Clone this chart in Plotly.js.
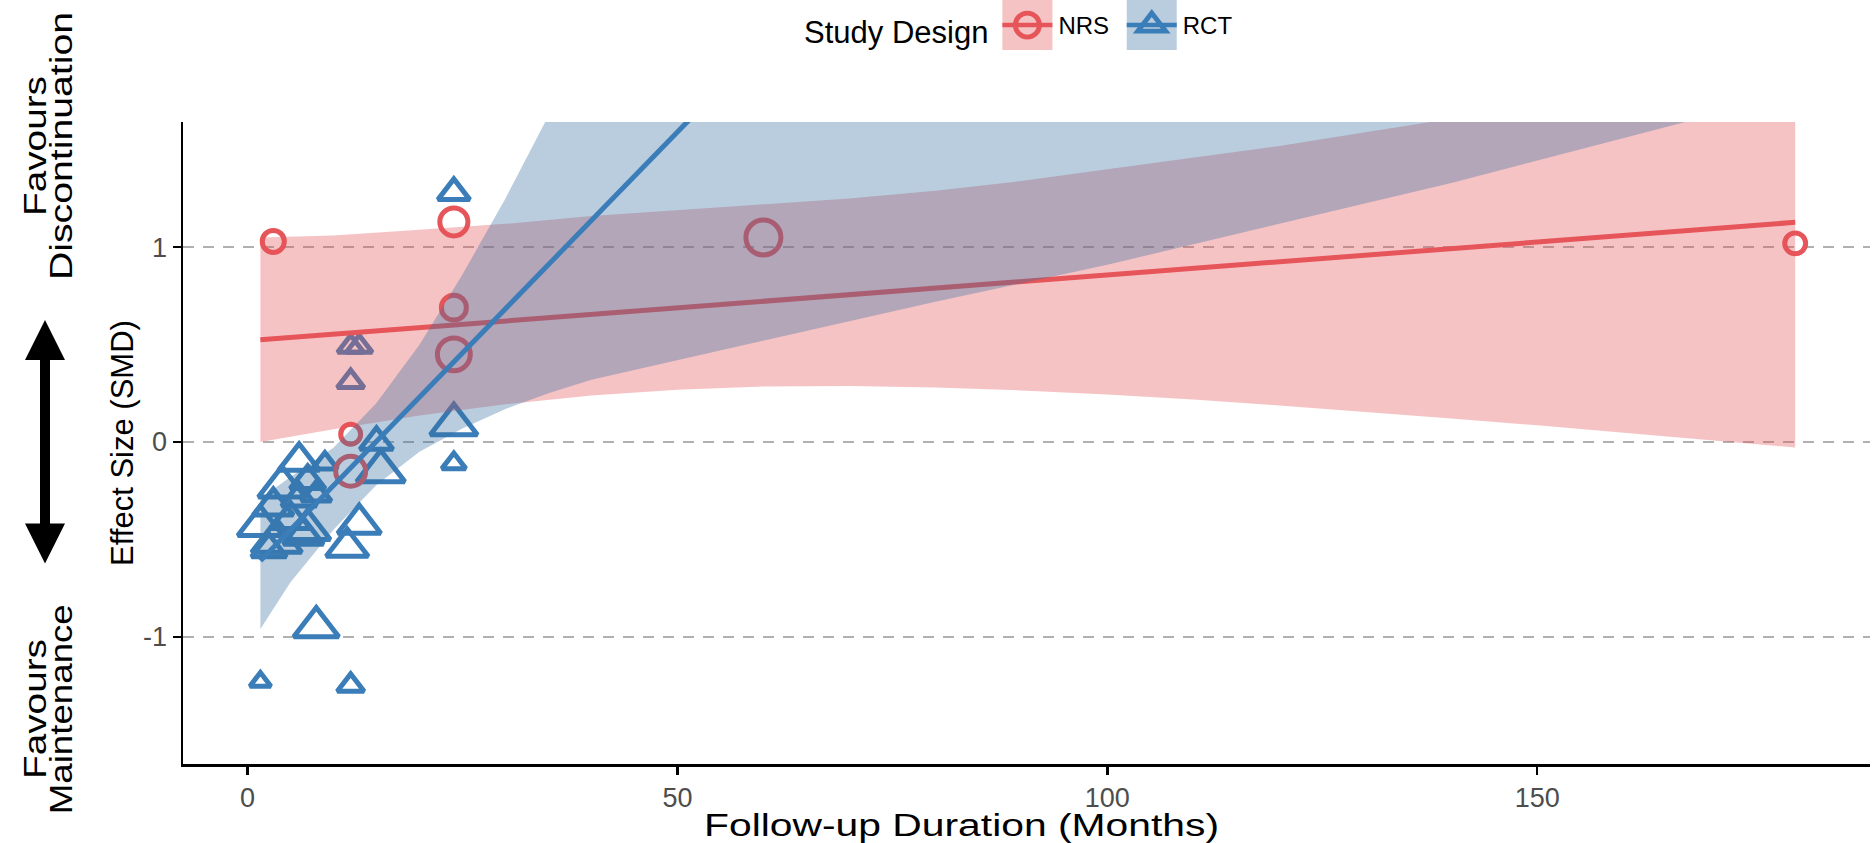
<!DOCTYPE html>
<html><head><meta charset="utf-8">
<script src="https://cdn.plot.ly/plotly-3.0.1.min.js"></script>
<style>html,body{margin:0;padding:0;background:#fff}#chart{width:1873px;height:843px}</style>
</head><body><div id="chart"></div>
<script>
// ---- Non-randomised studies (NRS) ----
const nrsMonths = [3, 24, 24, 24, 60, 180, 12, 12];
const nrsSMD    = [1.03, 1.13, 0.69, 0.45, 1.05, 1.02, 0.04, -0.15];
const nrsWeight = [6.0, 9.7, 7.7, 13.4, 15.1, 5.4, 4.9, 11.1];

// ---- Randomised controlled trials (RCT) ----
const rctMonths = [1.5, 12, 8, 24, 12, 13, 12, 24, 24, 15, 15.5, 13, 11.6, 6, 9, 4, 7, 1.5, 3.4, 6, 5, 7, 3, 8, 6.5, 2.5];
const rctSMD    = [-1.23, -1.25, -0.95, 1.28, 0.49, 0.49, 0.31, 0.09, -0.11, 0.0, -0.15, -0.42, -0.54, -0.10, -0.11, -0.23, -0.20, -0.43, -0.51, -0.29, -0.40, -0.45, -0.33, -0.27, -0.48, -0.55];
const rctWeight = [3.0, 4.9, 13.8, 6.9, 4.6, 4.6, 4.9, 15.0, 3.9, 7.4, 15.7, 12.6, 12.0, 11.4, 4.3, 15.0, 8.3, 13.8, 17.0, 8.3, 10.9, 13.8, 10.9, 6.1, 10.9, 8.3];

// ---- Linear meta-regression fits ----
const nrsFitMonths = [1.5, 180];
const nrsFitSMD    = [0.525, 1.128];
const rctFitMonths = [1.5, 180];
const rctFitSMD    = [-0.609, 7.49];

// ---- 95% confidence bands ----
const nrsBandMonths = [1.5, 10, 20, 30, 40, 50, 60, 70, 80, 90, 100, 110, 120, 130, 140, 150, 160, 170, 180];
const nrsBandLower  = [0.0, 0.066, 0.136, 0.194, 0.239, 0.269, 0.285, 0.288, 0.280, 0.265, 0.244, 0.218, 0.188, 0.156, 0.121, 0.086, 0.049, 0.011, -0.028];
const nrsBandUpper  = [1.05, 1.06, 1.09, 1.12, 1.16, 1.19, 1.22, 1.25, 1.29, 1.34, 1.40, 1.46, 1.52, 1.59, 1.66, 1.74, 1.83, 1.93, 2.03];

const rctBandMonths = [1.5, 5, 10, 15, 20, 25, 30, 35, 40, 60, 80, 100, 120, 140, 160, 180];
const rctBandLower  = [-0.96, -0.72, -0.45, -0.22, -0.05, 0.07, 0.17, 0.25, 0.32, 0.52, 0.72, 0.91, 1.12, 1.33, 1.56, 1.79];
const rctBandUpper  = [-0.29, -0.18, -0.03, 0.20, 0.50, 0.86, 1.25, 1.68, 2.10, 3.70, 5.30, 6.80, 8.40, 10.0, 11.6, 13.3];

const xTicks = [0, 50, 100, 150];
const yTicks = [-1, 0, 1];
const groupNames = ['NRS', 'RCT'];

// ---- styling ----
const RED = '#E6555A', BLUE = '#3A7DB8';
const RED_FILL = 'rgba(230,83,90,0.35)', BLUE_FILL = 'rgba(55,112,161,0.35)';
const FONT = 'Liberation Sans, Arial, sans-serif';
const circleSize = w => 9 * Math.sqrt(w);
const triangleSize = w => 1.167 * 9 * Math.sqrt(w);
const band = (xs, lo, hi) => ({x: xs.concat(xs.slice().reverse()), y: hi.concat(lo.slice().reverse())});

const nrsBand = band(nrsBandMonths, nrsBandLower, nrsBandUpper);
const rctBand = band(rctBandMonths, rctBandLower, rctBandUpper);

const data = [
  {type: 'scatter', mode: 'markers', x: rctMonths, y: rctSMD, showlegend: false, hoverinfo: 'x+y',
   marker: {symbol: 'triangle-up-open', color: BLUE, opacity: 1, size: rctWeight.map(triangleSize), line: {width: 5, color: BLUE}}},
  {type: 'scatter', mode: 'markers', x: nrsMonths, y: nrsSMD, showlegend: false, hoverinfo: 'x+y',
   marker: {symbol: 'circle-open', color: RED, opacity: 1, size: nrsWeight.map(circleSize), line: {width: 5, color: RED}}},
  {type: 'scatter', mode: 'lines', x: nrsBand.x, y: nrsBand.y, fill: 'toself', fillcolor: RED_FILL,
   line: {width: 0}, showlegend: false, hoverinfo: 'skip'},
  {type: 'scatter', mode: 'lines', x: nrsFitMonths, y: nrsFitSMD, line: {color: RED, width: 5}, showlegend: false},
  {type: 'scatter', mode: 'lines', x: rctBand.x, y: rctBand.y, fill: 'toself', fillcolor: BLUE_FILL,
   line: {width: 0}, showlegend: false, hoverinfo: 'skip'},
  {type: 'scatter', mode: 'lines', x: rctFitMonths, y: rctFitSMD, line: {color: BLUE, width: 5}, showlegend: false},
  // legend keys
  {type: 'scatter', mode: 'lines+markers', x: [null], y: [null], name: groupNames[0] + '\u00A0',
   line: {color: RED, width: 4.5}, marker: {symbol: 'circle-open', size: 16, color: RED, line: {width: 4, color: RED}}},
  {type: 'scatter', mode: 'lines+markers', x: [null], y: [null], name: groupNames[1],
   line: {color: BLUE, width: 4.5}, marker: {symbol: 'triangle-up-open', size: 16, color: BLUE, line: {width: 4, color: BLUE}}}
];

const L = 183, R = 3, T = 122, B = 79, W = 1873, H = 843;
const pw = W - L - R, ph = H - T - B;
const px2x = p => (p - L) / pw;
const px2y = p => (H - B - p) / ph;

const sideFont = {size: 31, family: FONT, color: '#000'};
const layout = {
  width: W, height: H,
  margin: {l: L, r: R, t: T, b: B, pad: 0},
  paper_bgcolor: '#fff', plot_bgcolor: '#fff',
  font: {family: FONT, color: '#000'},
  xaxis: {range: [-7.5, 188.7], tickvals: xTicks, ticktext: xTicks.map(String),
    ticks: 'outside', ticklen: 8, tickwidth: 2.5, tickcolor: '#000',
    showline: true, linecolor: '#000', linewidth: 2.5, showgrid: false, zeroline: false,
    tickfont: {size: 27, color: '#4D4D4D', family: FONT}},
  yaxis: {range: [-1.653, 1.643], tickvals: yTicks, ticktext: yTicks.map(String),
    ticks: 'outside', ticklen: 8, tickwidth: 2.5, tickcolor: '#000',
    showline: true, linecolor: '#000', linewidth: 2.5, zeroline: false,
    showgrid: true, gridcolor: '#B0B0B0', gridwidth: 2.5, griddash: '11px,9px',
    tickfont: {size: 27, color: '#4D4D4D', family: FONT},
    title: {text: 'Effect Size (SMD)', font: {size: 31, color: '#000', family: FONT}, standoff: 0}},
  legend: {orientation: 'h', x: px2x(802), xanchor: 'left', y: px2y(3), yanchor: 'top',
    bgcolor: 'rgba(0,0,0,0)', font: {size: 24, family: FONT, color: '#000'},
    title: {text: 'Study Design', side: 'left', font: {size: 31, family: FONT, color: '#000'}},
    itemwidth: 52, tracegroupgap: 0},
  annotations: [
    {xref: 'paper', yref: 'paper', x: px2x(961), y: px2y(826), xanchor: 'center', yanchor: 'middle',
     text: 'Follow-up Duration (Months)', showarrow: false, font: {size: 31, family: FONT, color: '#000'}},
    {xref: 'paper', yref: 'paper', x: px2x(35), y: px2y(146), xanchor: 'center', yanchor: 'middle',
     text: 'Favours', showarrow: false, textangle: -90, font: sideFont},
    {xref: 'paper', yref: 'paper', x: px2x(61), y: px2y(146), xanchor: 'center', yanchor: 'middle',
     text: 'Discontinuation', showarrow: false, textangle: -90, font: sideFont},
    {xref: 'paper', yref: 'paper', x: px2x(35), y: px2y(709), xanchor: 'center', yanchor: 'middle',
     text: 'Favours', showarrow: false, textangle: -90, font: sideFont},
    {xref: 'paper', yref: 'paper', x: px2x(61), y: px2y(709), xanchor: 'center', yanchor: 'middle',
     text: 'Maintenance', showarrow: false, textangle: -90, font: sideFont},
    {xref: 'paper', yref: 'paper', x: px2x(45), y: px2y(320), text: '', showarrow: true,
     axref: 'pixel', ayref: 'pixel', ax: 0, ay: 245, arrowhead: 2, startarrowhead: 2, arrowside: 'end+start',
     arrowwidth: 10, arrowsize: 0.8, startarrowsize: 0.8, arrowcolor: '#000', standoff: 0, startstandoff: 0}
  ],
  shapes: []
};

// stretched lettering of the reference (target lengths in px, by annotation index)
const textStretch = {0: 515, 1: 140, 2: 268, 3: 140, 4: 210};
const KEY_HALF = 25;

Plotly.newPlot('chart', data, layout, {displayModeBar: false, staticPlot: true}).then(gd => {
  const s = gd._fullLayout._size;
  const box = gd.getBoundingClientRect();
  const keyFills = [RED_FILL, BLUE_FILL];
  const shapes = [];
  gd.querySelectorAll('.legend .traces').forEach((tr, i) => {
    const ln = tr.querySelector('.legendlines path') || tr.querySelector('.legendsymbols');
    if (!ln) return;
    const r = ln.getBoundingClientRect();
    const cx = r.left + r.width / 2 - box.left, cy = r.top + r.height / 2 - box.top;
    shapes.push({type: 'rect', xref: 'paper', yref: 'paper', layer: 'below',
      x0: (cx - KEY_HALF - s.l) / s.w, x1: (cx + KEY_HALF - s.l) / s.w,
      y0: 1 - (cy + KEY_HALF - s.t) / s.h, y1: 1 - (cy - KEY_HALF - s.t) / s.h,
      fillcolor: keyFills[i % 2], line: {width: 0}});
  });
  return Plotly.relayout(gd, {shapes: shapes});
}).then(gd => {
  gd.querySelectorAll('g.annotation').forEach(g => {
    const i = +g.getAttribute('data-index');
    const t = g.querySelector('text.annotation-text');
    if (t && textStretch[i]) {
      t.setAttribute('textLength', textStretch[i]);
      t.setAttribute('lengthAdjust', 'spacingAndGlyphs');
    }
  });
  // larger legend keys, line spanning the key box
  gd.querySelectorAll('.legend .traces').forEach(tr => {
    const ln = tr.querySelector('.legendlines path');
    if (ln) {
      const bb = ln.getBBox();
      const c = bb.x + bb.width / 2;
      ln.setAttribute('d', 'M' + (c - KEY_HALF) + ',0h' + (2 * KEY_HALF));
    }
    tr.querySelectorAll('.legendpoints path').forEach(p => {
      const tf = p.getAttribute('transform') || '';
      p.setAttribute('transform', tf + ' scale(1.5)');
      p.style.strokeWidth = '3.3px';
    });
  });
});
</script>
</body></html>
